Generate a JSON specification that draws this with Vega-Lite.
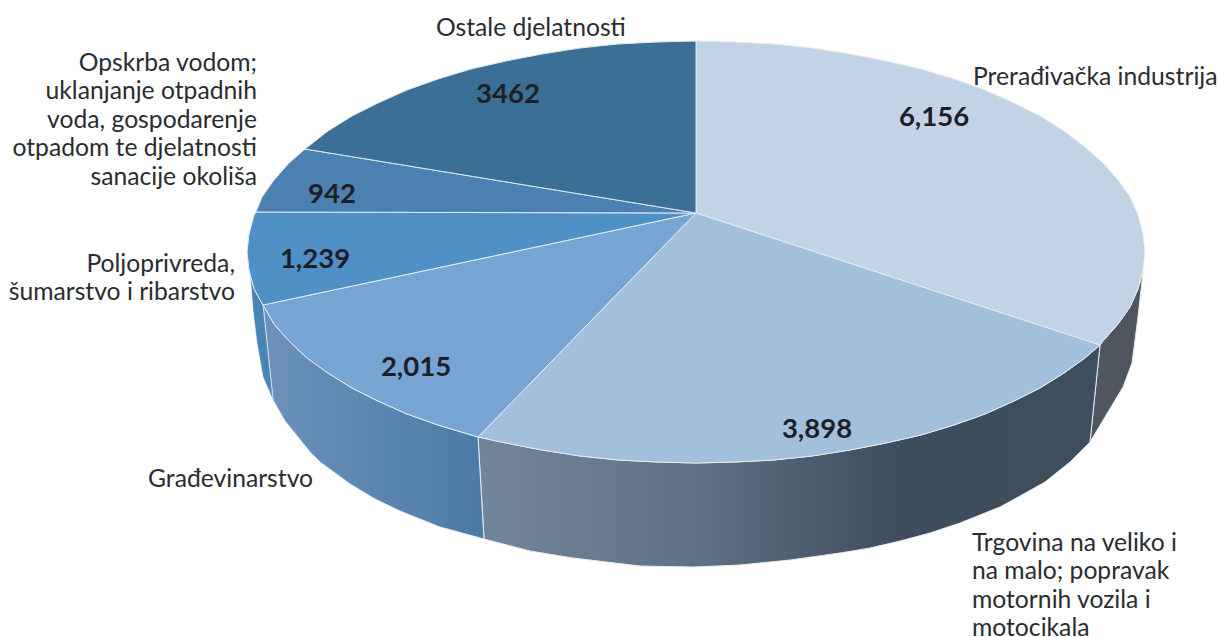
{"$schema":"https://vega.github.io/schema/vega-lite/v6.json","width":1218,"height":637,"padding":0,"autosize":"none","background":"white","config":{"view":{"stroke":null}},
"datasets":{
"wallA":[{"x":1143,"y":272},{"x":1138,"y":289},{"x":1130,"y":307},{"x":1118,"y":324},{"x":1103,"y":341},{"x":1100,"y":345},{"x":1090,"y":442},{"x":1108,"y":412},{"x":1123,"y":387},{"x":1132,"y":363},{"x":1138,"y":317},{"x":1143,"y":272}],
"wallB":[{"x":1100,"y":345},{"x":1085,"y":358},{"x":1064,"y":373},{"x":1040,"y":388},{"x":1014,"y":401},{"x":985,"y":414},{"x":954,"y":425},{"x":921,"y":435},{"x":886,"y":443},{"x":850,"y":450},{"x":812,"y":456},{"x":774,"y":460},{"x":735,"y":462},{"x":696,"y":463},{"x":657,"y":462},{"x":618,"y":460},{"x":580,"y":456},{"x":542,"y":450},{"x":506,"y":443},{"x":478,"y":437},{"x":484,"y":539},{"x":530,"y":551},{"x":573,"y":558},{"x":640,"y":566},{"x":693,"y":567},{"x":740,"y":565},{"x":790,"y":560},{"x":840,"y":553},{"x":870,"y":548},{"x":900,"y":541},{"x":930,"y":533},{"x":960,"y":523},{"x":1000,"y":507},{"x":1020,"y":496},{"x":1045,"y":482},{"x":1070,"y":462},{"x":1090,"y":442},{"x":1100,"y":345}],
"wallC":[{"x":478,"y":437},{"x":438,"y":425},{"x":407,"y":414},{"x":378,"y":401},{"x":352,"y":388},{"x":328,"y":373},{"x":307,"y":358},{"x":289,"y":341},{"x":274,"y":324},{"x":263,"y":305},{"x":273,"y":400},{"x":285,"y":421},{"x":310,"y":452},{"x":320,"y":462},{"x":350,"y":484},{"x":375,"y":499},{"x":400,"y":511},{"x":440,"y":527},{"x":484,"y":539},{"x":478,"y":437}],
"wallD":[{"x":263,"y":305},{"x":254,"y":289},{"x":250,"y":273},{"x":253,"y":310},{"x":257,"y":343},{"x":263,"y":377},{"x":273,"y":400},{"x":263,"y":305}],
"topA":[{"x":696,"y":213},{"x":696,"y":41},{"x":735,"y":42},{"x":774,"y":44},{"x":812,"y":48},{"x":850,"y":54},{"x":886,"y":61},{"x":921,"y":69},{"x":954,"y":79},{"x":985,"y":90},{"x":1014,"y":103},{"x":1040,"y":116},{"x":1064,"y":131},{"x":1085,"y":147},{"x":1103,"y":163},{"x":1118,"y":180},{"x":1130,"y":197},{"x":1138,"y":215},{"x":1143,"y":234},{"x":1145,"y":252},{"x":1143,"y":270},{"x":1138,"y":289},{"x":1130,"y":307},{"x":1118,"y":324},{"x":1103,"y":341},{"x":1100,"y":345},{"x":696,"y":213}],
"topB":[{"x":696,"y":213},{"x":1100,"y":345},{"x":1085,"y":358},{"x":1064,"y":373},{"x":1040,"y":388},{"x":1014,"y":401},{"x":985,"y":414},{"x":954,"y":425},{"x":921,"y":435},{"x":886,"y":443},{"x":850,"y":450},{"x":812,"y":456},{"x":774,"y":460},{"x":735,"y":462},{"x":696,"y":463},{"x":657,"y":462},{"x":618,"y":460},{"x":580,"y":456},{"x":542,"y":450},{"x":506,"y":443},{"x":478,"y":437},{"x":696,"y":213}],
"topC":[{"x":696,"y":213},{"x":478,"y":437},{"x":438,"y":425},{"x":407,"y":414},{"x":378,"y":401},{"x":352,"y":388},{"x":328,"y":373},{"x":307,"y":358},{"x":289,"y":341},{"x":274,"y":324},{"x":263,"y":305},{"x":696,"y":213}],
"topD":[{"x":696,"y":213},{"x":263,"y":305},{"x":254,"y":289},{"x":249,"y":270},{"x":247,"y":252},{"x":249,"y":234},{"x":254,"y":215},{"x":256,"y":212},{"x":696,"y":213}],
"topE":[{"x":696,"y":213},{"x":256,"y":212},{"x":262,"y":197},{"x":274,"y":180},{"x":289,"y":163},{"x":305,"y":149},{"x":696,"y":213}],
"topF":[{"x":696,"y":213},{"x":305,"y":149},{"x":328,"y":131},{"x":352,"y":116},{"x":378,"y":103},{"x":407,"y":90},{"x":438,"y":79},{"x":471,"y":69},{"x":506,"y":61},{"x":542,"y":54},{"x":580,"y":48},{"x":618,"y":44},{"x":657,"y":42},{"x":696,"y":41},{"x":696,"y":213}],
"labelsRight":[{"t":"Opskrba vodom;","x":257,"y":71},{"t":"uklanjanje otpadnih","x":257,"y":99},{"t":"voda, gospodarenje","x":257,"y":128},{"t":"otpadom te djelatnosti","x":257,"y":156},{"t":"sanacije okoliša","x":257,"y":185},{"t":"Poljoprivreda,","x":235,"y":272},{"t":"šumarstvo i ribarstvo","x":235,"y":300}],
"labelsLeft":[{"t":"Ostale djelatnosti","x":436,"y":36},{"t":"Prerađivačka industrija","x":973,"y":85},{"t":"Građevinarstvo","x":148,"y":487},{"t":"Trgovina na veliko i","x":972,"y":551},{"t":"na malo; popravak","x":972,"y":579},{"t":"motornih vozila i","x":972,"y":608},{"t":"motocikala","x":972,"y":636}],
"values":[{"t":"6,156","x":934,"y":126},{"t":"3,898","x":817,"y":438},{"t":"2,015","x":416,"y":376},{"t":"1,239","x":315,"y":268},{"t":"942","x":332,"y":203},{"t":"3462","x":508,"y":103}]
},
"encoding":{"x":{"field":"x","type":"quantitative","axis":null,"scale":{"domain":[0,1218],"nice":false,"zero":false}},"y":{"field":"y","type":"quantitative","axis":null,"scale":{"domain":[637,0],"nice":false,"zero":false}}},
"layer":[
{"data":{"name":"wallA"},"mark":{"type":"line","fill":"#4f5660","stroke":"#e6ebf0","strokeWidth":1},"encoding":{"order":{"value":null}}},
{"data":{"name":"wallB"},"mark":{"type":"line","fill":{"gradient":"linear","x1":0,"x2":1,"y1":0,"y2":0,"stops":[{"offset":0,"color":"#73859b"},{"offset":0.35,"color":"#5f7184"},{"offset":0.68,"color":"#3e4d5c"},{"offset":1,"color":"#3f4e5c"}]},"stroke":"#e6ebf0","strokeWidth":1},"encoding":{"order":{"value":null}}},
{"data":{"name":"wallC"},"mark":{"type":"line","fill":{"gradient":"linear","x1":0,"x2":1,"y1":0,"y2":0,"stops":[{"offset":0,"color":"#6c92bb"},{"offset":1,"color":"#4c7aa6"}]},"stroke":"#e6ebf0","strokeWidth":1},"encoding":{"order":{"value":null}}},
{"data":{"name":"wallD"},"mark":{"type":"line","fill":"#4a84b5","stroke":"#ffffff","strokeWidth":0.5},"encoding":{"order":{"value":null}}},
{"data":{"name":"topA"},"mark":{"type":"line","fill":"#c1d3e4","stroke":"#e6ebf0","strokeWidth":1},"encoding":{"order":{"value":null}}},
{"data":{"name":"topB"},"mark":{"type":"line","fill":"#a2bfdc","stroke":"#e6ebf0","strokeWidth":1},"encoding":{"order":{"value":null}}},
{"data":{"name":"topC"},"mark":{"type":"line","fill":"#77a5d3","stroke":"#e6ebf0","strokeWidth":1},"encoding":{"order":{"value":null}}},
{"data":{"name":"topD"},"mark":{"type":"line","fill":"#4f90c6","stroke":"#e6ebf0","strokeWidth":1},"encoding":{"order":{"value":null}}},
{"data":{"name":"topE"},"mark":{"type":"line","fill":"#4b80b0","stroke":"#dfe8f0","strokeWidth":1},"encoding":{"order":{"value":null}}},
{"data":{"name":"topF"},"mark":{"type":"line","fill":"#3c6f96","stroke":"#dfe8f0","strokeWidth":1},"encoding":{"order":{"value":null}}},
{"data":{"name":"labelsRight"},"mark":{"type":"text","align":"right","baseline":"alphabetic","font":"Lato","fontSize":24.7,"fill":"#2a2c31"},"encoding":{"text":{"field":"t"}}},
{"data":{"name":"labelsLeft"},"mark":{"type":"text","align":"left","baseline":"alphabetic","font":"Lato","fontSize":24.7,"fill":"#2a2c31"},"encoding":{"text":{"field":"t"}}},
{"data":{"name":"values"},"mark":{"type":"text","align":"center","baseline":"alphabetic","font":"Lato","fontWeight":"bold","fontSize":27.5,"fill":"#1d1f24"},"encoding":{"text":{"field":"t"}}}
]}
